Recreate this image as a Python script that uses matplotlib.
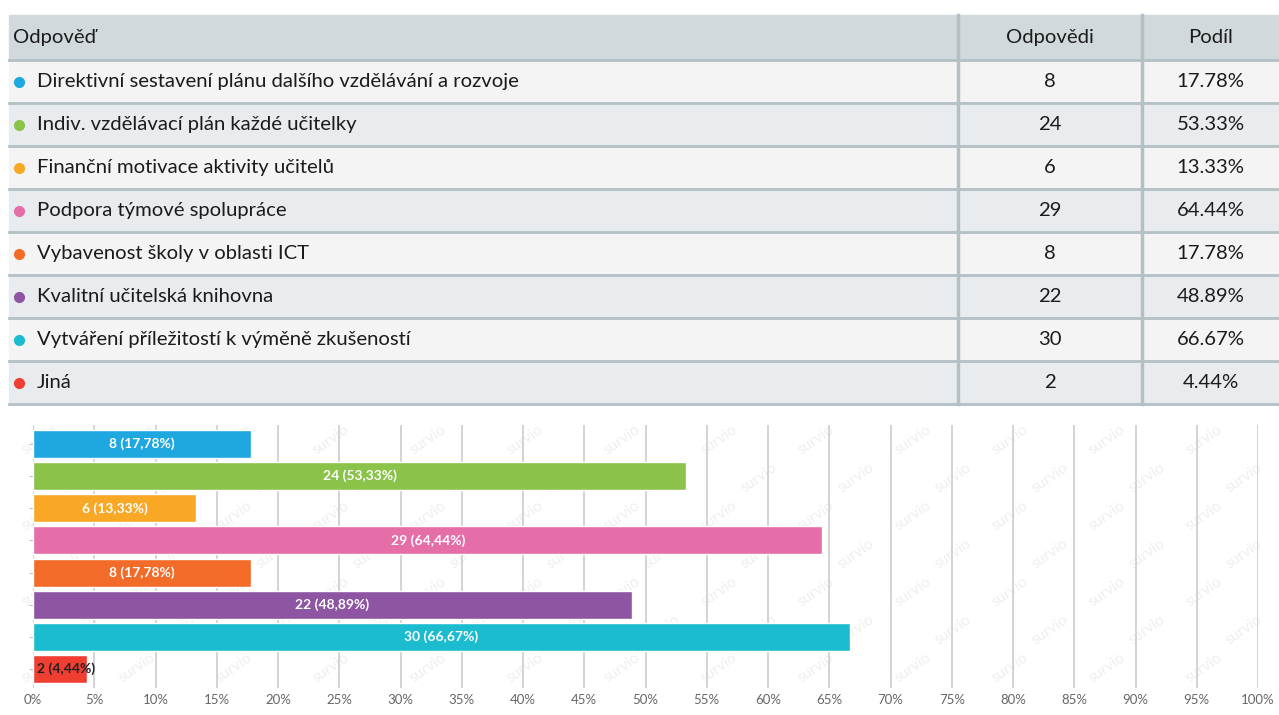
import matplotlib.pyplot as plt
from matplotlib.patches import Rectangle

plt.rcParams['font.family'] = ['Lato', 'DejaVu Sans']

odpovedi = [
    'Direktivní sestavení plánu dalšího vzdělávání a rozvoje',
    'Indiv. vzdělávací plán každé učitelky',
    'Finanční motivace aktivity učitelů',
    'Podpora týmové spolupráce',
    'Vybavenost školy v oblasti ICT',
    'Kvalitní učitelská knihovna',
    'Vytváření příležitostí k výměně zkušeností',
    'Jiná',
]
pocty = [8, 24, 6, 29, 8, 22, 30, 2]
podily = [17.78, 53.33, 13.33, 64.44, 17.78, 48.89, 66.67, 4.44]
barvy = ['#1fa8e0', '#8bc34a', '#f9a825', '#e56ea8',
         '#f26b28', '#8e55a3', '#1bbccf', '#f03e33']
x_ticks = list(range(0, 101, 5))

W, H = 1279, 715
fig = plt.figure(figsize=(W / 100, H / 100), dpi=100)

# --- tabulka (v pixelovych souradnicich) ---
tab = fig.add_axes([0, 0, 1, 1])
tab.set_xlim(0, W)
tab.set_ylim(H, 0)
tab.axis('off')

# vodoznak
for ry in range(7):
    for rx in range(13):
        tab.text(40 + rx * 97 + (ry % 2) * 40, 440 + ry * 38, 'survio',
                 rotation=35, color='#efefef', fontsize=11, ha='center',
                 va='center', zorder=0)

left, c1, c2, right = 9, 958, 1142, W
top, head_h, row_h = 15, 45, 43
border = '#b3c0c4'
fs = 14.6

tab.add_patch(Rectangle((left, top), right - left, head_h, color='#d1d9dc'))
tab.text(13, top + head_h / 2, 'Odpověď', fontsize=fs, va='center', color='#1b1b1b')
tab.text((c1 + c2) / 2, top + head_h / 2, 'Odpovědi', fontsize=fs, va='center',
         ha='center', color='#1b1b1b')
tab.text((c2 + right) / 2, top + head_h / 2, 'Podíl', fontsize=fs, va='center',
         ha='center', color='#1b1b1b')

for i, (txt, n, p, c) in enumerate(zip(odpovedi, pocty, podily, barvy)):
    y0 = top + head_h + i * row_h
    bg = '#f4f4f4' if i % 2 == 0 else '#e8ecee'
    tab.add_patch(Rectangle((left, y0), right - left, row_h, color=bg))
    yc = y0 + row_h / 2
    tab.plot(19, yc, 'o', color=c, markersize=7)
    tab.text(37, yc, txt, fontsize=fs, va='center', color='#1b1b1b')
    tab.text((c1 + c2) / 2, yc, str(n), fontsize=fs, va='center', ha='center',
             color='#1b1b1b')
    tab.text((c2 + right) / 2, yc, '%.2f%%' % p, fontsize=fs, va='center',
             ha='center', color='#1b1b1b')

bottom = top + head_h + len(odpovedi) * row_h
for k in range(len(odpovedi) + 1):
    yy = top + head_h + k * row_h
    tab.plot([left, right], [yy, yy], color=border, lw=2)
for xx in (c1, c2):
    tab.plot([xx, xx], [top, bottom], color=border, lw=2.5)

# --- sloupcovy graf ---
ax_l, ax_r = 33, 1258
ax_t, ax_b = 425, 688
ax = fig.add_axes([ax_l / W, 1 - ax_b / H, (ax_r - ax_l) / W, (ax_b - ax_t) / H])
ax.patch.set_alpha(0)
pos = list(range(len(odpovedi)))
ax.barh(pos, podily, height=0.87, color=barvy, edgecolor='white', linewidth=1, zorder=3)
ax.set_xlim(0, 100)
ax.set_ylim(7.59, -0.59)

for i, (n, p) in enumerate(zip(pocty, podily)):
    lab = '%d (%s%%)' % (n, ('%.2f' % p).replace('.', ','))
    if p > 8:
        ax.text(p / 2, i, lab, ha='center', va='center', color='white',
                fontsize=10, fontweight='bold', zorder=4)
    else:
        ax.text(0.3, i, lab, ha='left', va='center', color='#222222',
                fontsize=10, fontweight='bold', zorder=4)

ax.set_xticks(x_ticks)
ax.set_xticklabels(['%d%%' % t for t in x_ticks], fontsize=9.5, color='#666666')
ax.tick_params(axis='x', length=0, pad=4)
ax.grid(axis='x', color='#cccccc', lw=1.2, zorder=0)
ax.set_yticks(pos)
ax.set_yticklabels([])
ax.tick_params(axis='y', length=3, color='#b9c6d2')
for s in ax.spines.values():
    s.set_visible(False)

fig.savefig('out.png', dpi=100)
